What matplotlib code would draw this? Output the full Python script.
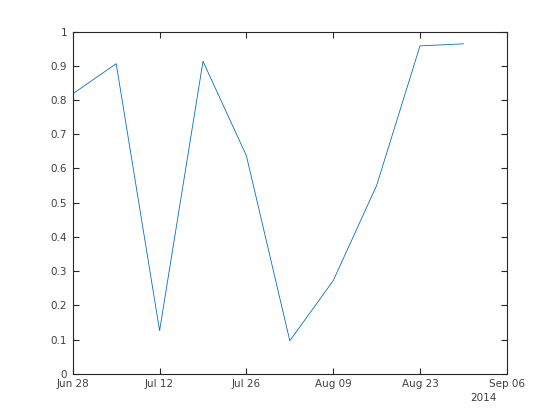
import matplotlib
matplotlib.use("Agg")
import matplotlib.pyplot as plt
import matplotlib.dates as mdates
import numpy as np
import datetime as dt

dates = ["2014-06-28", "2014-07-05", "2014-07-12", "2014-07-19", "2014-07-26",
         "2014-08-02", "2014-08-09", "2014-08-16", "2014-08-23", "2014-08-30"]
values = [0.818, 0.906, 0.126, 0.913, 0.637, 0.0965, 0.272, 0.55, 0.958, 0.964]
xtick_dates = ["2014-06-28", "2014-07-12", "2014-07-26", "2014-08-09", "2014-08-23", "2014-09-06"]
yticks = [0, 0.1, 0.2, 0.3, 0.4, 0.5, 0.6, 0.7, 0.8, 0.9, 1]
ytick_labels = ["0", "0.1", "0.2", "0.3", "0.4", "0.5", "0.6", "0.7", "0.8", "0.9", "1"]

x = [dt.datetime.strptime(d, "%Y-%m-%d") for d in dates]
xt = [dt.datetime.strptime(d, "%Y-%m-%d") for d in xtick_dates]

plt.rcParams['font.family'] = ['DejaVu Sans']
fig = plt.figure(figsize=(5.6, 4.2), dpi=100)
ax = fig.add_axes([0.13, 0.11, 0.775, 0.815])
ax.plot(x, values, color="#0072BD", linewidth=0.6)
ax.set_xlim(xt[0], xt[-1])
ax.set_ylim(0, 1)
ax.set_xticks(xt)
ax.xaxis.set_major_formatter(mdates.DateFormatter("%b %d"))
ax.set_yticks(yticks)
ax.set_yticklabels(ytick_labels)
tc = "#262626"
for s in ax.spines.values():
    s.set_color(tc)
    s.set_linewidth(0.8)
ax.tick_params(direction="in", length=4, width=0.8, colors=tc, labelsize=7.5,
               top=True, right=True, pad=4)
for lab in ax.get_xticklabels() + ax.get_yticklabels():
    lab.set_color("#404040")
fig.text(483/560, 1 - 398/420, "2014", ha="center", va="center", fontsize=7.5, color="#404040")
fig.savefig("out.png", dpi=100)
